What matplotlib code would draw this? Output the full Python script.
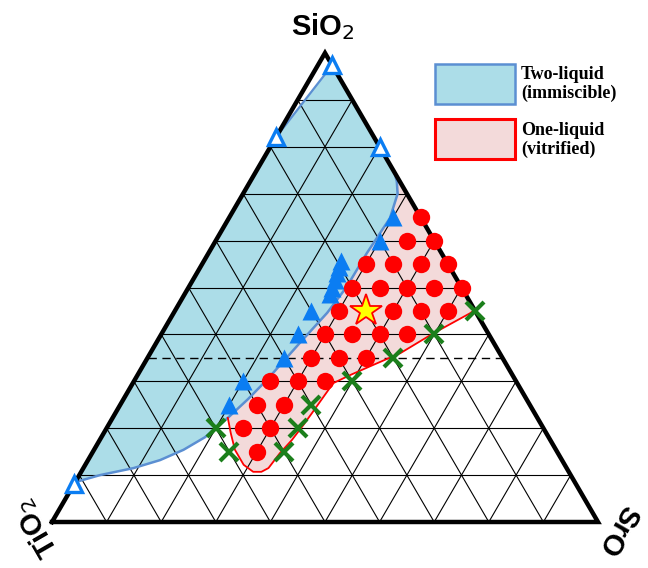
import numpy as np
import matplotlib
matplotlib.use('Agg')
import matplotlib.pyplot as plt
from matplotlib.patches import Polygon, Rectangle

# Diagrama ternario SiO2 - TiO2 - SrO (fracciones molares: SiO2, SrO; TiO2 = resto)

# muestras de una sola fase (círculos rojos)
red_si = [0.65, 0.60, 0.60, 0.55, 0.55, 0.55, 0.55, 0.50, 0.50, 0.50, 0.50, 0.50,
          0.45, 0.45, 0.45, 0.45, 0.40, 0.40, 0.40, 0.40, 0.35, 0.35, 0.35,
          0.30, 0.30, 0.30, 0.25, 0.25, 0.20, 0.20, 0.15]
red_sr = [0.35, 0.35, 0.40, 0.30, 0.35, 0.40, 0.45, 0.30, 0.35, 0.40, 0.45, 0.50,
          0.30, 0.40, 0.45, 0.50, 0.30, 0.35, 0.40, 0.45, 0.30, 0.35, 0.40,
          0.25, 0.30, 0.35, 0.25, 0.30, 0.25, 0.30, 0.30]

# muestras con separación de fases (triángulos azules)
blue_si = [0.65, 0.60, 0.556, 0.543, 0.530, 0.515, 0.500, 0.486,
           0.45, 0.40, 0.35, 0.30, 0.25]
blue_sr = [0.30, 0.30, 0.251, 0.254, 0.257, 0.260, 0.263, 0.266,
           0.25, 0.25, 0.25, 0.20, 0.20]

# datos de literatura (triángulos abiertos)
open_si = [0.974, 0.82, 0.80, 0.08]
open_sr = [0.026, 0.00, 0.20, 0.00]

# cristalizados (cruces verdes)
green_si = [0.45, 0.40, 0.35, 0.30, 0.25, 0.20, 0.15, 0.20, 0.15]
green_sr = [0.55, 0.50, 0.45, 0.40, 0.35, 0.35, 0.35, 0.20, 0.25]

# composición destacada (estrella)
star_si = [0.45]
star_sr = [0.35]

# frontera de inmiscibilidad (curva azul)
bnd_si = [0.085, 0.100, 0.115, 0.132, 0.154, 0.181, 0.222, 0.262, 0.303, 0.382,
          0.446, 0.501, 0.573, 0.648, 0.700, 0.726, 0.746]
bnd_sr = [0.000, 0.038, 0.092, 0.132, 0.164, 0.190, 0.211, 0.228, 0.242, 0.263,
          0.281, 0.289, 0.290, 0.295, 0.283, 0.2685, 0.254]

# límite de vitrificación (curva roja)
vit_si = [0.222, 0.189, 0.154, 0.122, 0.107, 0.107, 0.115, 0.147, 0.175, 0.207,
          0.232, 0.296, 0.313, 0.335, 0.360, 0.402, 0.445, 0.452]
vit_sr = [0.211, 0.233, 0.258, 0.290, 0.315, 0.330, 0.339, 0.344, 0.352, 0.357,
          0.360, 0.367, 0.389, 0.421, 0.458, 0.497, 0.543, 0.548]

dashed_si = 0.35
H = np.sqrt(3) / 2


def tern(si, sr):
    si = np.asarray(si, dtype=float)
    sr = np.asarray(sr, dtype=float)
    return sr + si / 2, si * H


fig = plt.figure(figsize=(6.48, 5.68), dpi=100)
ax = fig.add_axes([0, 0, 1, 1])
ax.set_xlim(-52 / 546, 596 / 546)
ypx = 469 / H
ax.set_ylim(-46 / ypx, 522 / ypx)
ax.axis('off')

# región de dos líquidos
reg_si = [0.974, 0.82] + bnd_si + [0.974]
reg_sr = [0.026, 0.00] + bnd_sr + [0.026]
x, y = tern(reg_si, reg_sr)
ax.add_patch(Polygon(np.column_stack([x, y]), closed=True, facecolor='#acdde8',
                     edgecolor='none', zorder=1))

# región de un líquido
i0 = bnd_si.index(0.222)
r_si = bnd_si[i0:] + vit_si[::-1]
r_sr = bnd_sr[i0:] + vit_sr[::-1]
x, y = tern(r_si, r_sr)
ax.add_patch(Polygon(np.column_stack([x, y]), closed=True, facecolor='#f3dada',
                     edgecolor='none', zorder=1))

# rejilla
for k in range(1, 10):
    f = k / 10
    for a, b in [((f, 0), (f, 1 - f)), ((0, f), (1 - f, f)), ((0, 1 - f), (1 - f, 0))]:
        x, y = tern([a[0], b[0]], [a[1], b[1]])
        ax.plot(x, y, color='black', lw=0.8, zorder=2)

x, y = tern([dashed_si, dashed_si], [0, 1 - dashed_si])
ax.plot(x, y, color='black', lw=1.0, ls=(0, (6, 4)), zorder=2)

# fronteras
x, y = tern([0.974, 0.82], [0.026, 0.0])
ax.plot(x, y, color='#5b8fd2', lw=1.6, zorder=3)
x, y = tern(bnd_si, bnd_sr)
ax.plot(x, y, color='#5b8fd2', lw=1.8, zorder=3)
x, y = tern(vit_si, vit_sr)
ax.plot(x, y, color='red', lw=1.3, zorder=3)

# contorno del triángulo
x, y = tern([0, 1, 0, 0], [0, 0, 1, 0])
ax.plot(x, y, color='black', lw=3.2, solid_joinstyle='miter', zorder=4)

# puntos
x, y = tern(red_si, red_sr)
ax.plot(x, y, 'o', ms=12.5, color='red', mec='none', zorder=5)
x, y = tern(blue_si, blue_sr)
ax.plot(x, y, '^', ms=13, color='#0b7df2', mec='none', zorder=5)
x, y = tern(open_si, open_sr)
ax.plot(x, y, '^', ms=11, mfc='white', mec='#0b7df2', mew=2.4, zorder=5)
x, y = tern(green_si, green_sr)
ax.plot(x, y, 'x', ms=13, color='#1b7f1b', mew=3, zorder=5)
x, y = tern(star_si, star_sr)
ax.plot(x, y, '*', ms=24, mfc='#ffff00', mec='red', mew=1.3, zorder=6)

# etiquetas de vértices
lab = dict(fontsize=21, fontweight='bold', family='Liberation Sans',
           ha='center', va='center')
fig.text(323 / 648, 1 - 27 / 568, 'SiO$_2$', **lab)
fig.text(36 / 648, 1 - 528 / 568, 'TiO$_2$', rotation=120, **lab)
fig.text(618 / 648, 1 - 530 / 568, 'SrO', rotation=240, **lab)


# leyenda
def fx(px):
    return px / 648


def fy(py):
    return 1 - py / 568


fig.add_artist(Rectangle((fx(435), fy(104)), 80 / 648, 40 / 568, transform=fig.transFigure,
                         facecolor='#acdde8', edgecolor='#5b8fd2', lw=1.8))
fig.add_artist(Rectangle((fx(435), fy(159)), 80 / 648, 40 / 568, transform=fig.transFigure,
                         facecolor='#f3dada', edgecolor='red', lw=2.2))
leg = dict(fontsize=13, fontweight='bold', family='Liberation Serif', va='center', ha='left',
           linespacing=1.2)
fig.text(fx(521), fy(84), 'Two-liquid\n(immiscible)', **leg)
fig.text(fx(521), fy(140), 'One-liquid\n(vitrified)', **leg)

fig.savefig('out.png', dpi=100)
